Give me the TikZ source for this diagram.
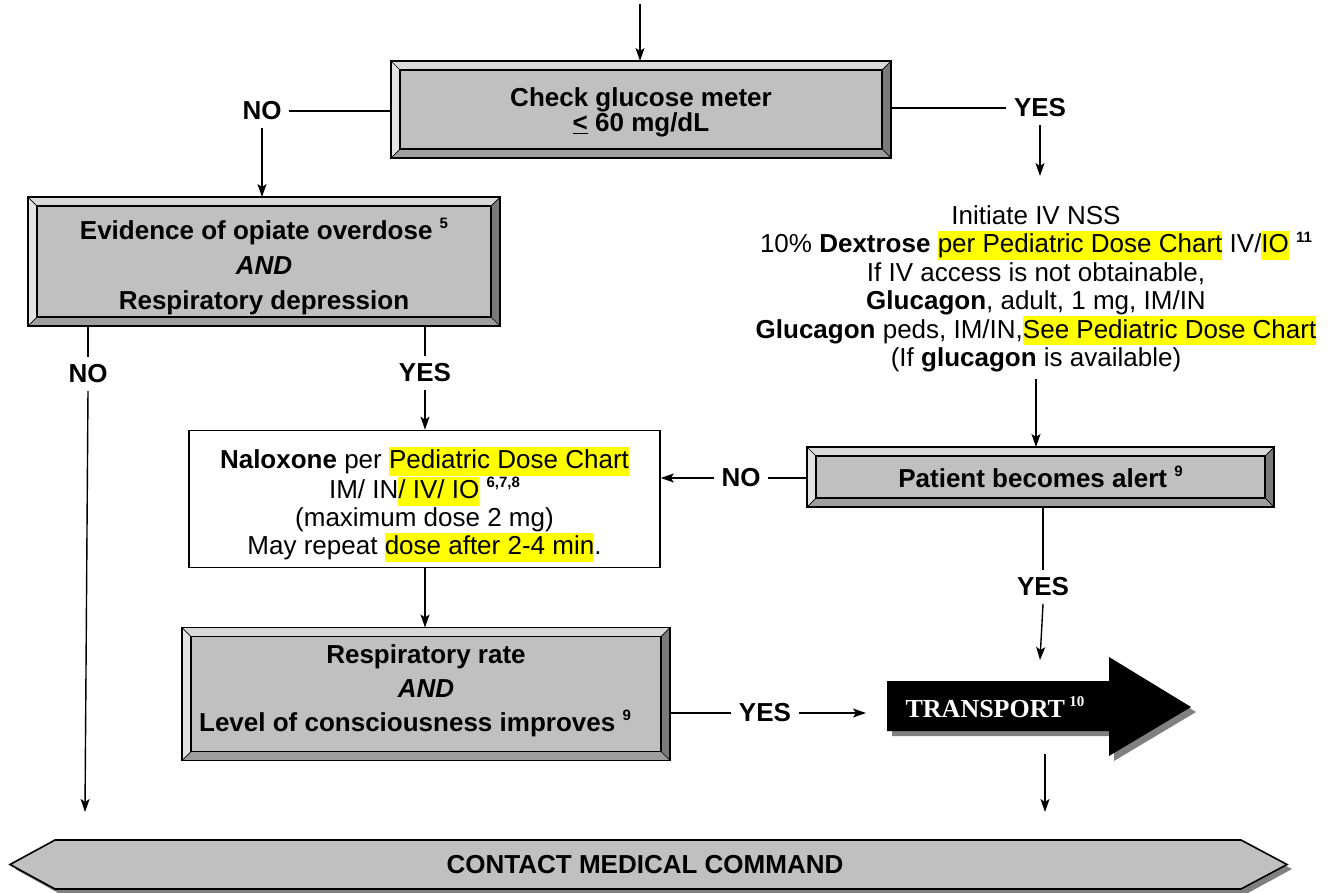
\documentclass[tikz,border=0pt]{standalone}
\usepackage{fontspec}
\setmainfont{Liberation Sans}
\newfontfamily\serifb{Liberation Serif}
\usetikzlibrary{arrows.meta,calc}
\definecolor{boxgray}{HTML}{C0C0C0}
\definecolor{bvT}{HTML}{D9D9D9}
\definecolor{bvL}{HTML}{E3E3E3}
\definecolor{bvR}{HTML}{7A7A7A}
\definecolor{bvB}{HTML}{9E9E9E}
\definecolor{shad}{HTML}{808080}
\definecolor{hl}{HTML}{FFFF00}
\newcommand\hlt[1]{{\setlength{\fboxsep}{0pt}\colorbox{hl}{\rule[-7pt]{0pt}{29pt}#1}}}
\newcommand\sps[1]{\raisebox{0.42em}{\fontsize{15}{15}\selectfont\bfseries #1}}
\def\bw{9pt}
\begin{document}
\begin{tikzpicture}[x=1pt,y=-1pt,line width=1.4pt,
  arr/.style={-{Stealth[length=13pt,width=9pt,inset=3pt]}},
  lbl/.style={font={\fontsize{26}{28}\selectfont\bfseries}, inner sep=7pt},
  txt/.style={align=center, inner sep=0pt},
  bevbox/.style={fill=boxgray, draw=black, line width=1.8pt, inner sep=0pt, outer sep=0pt, align=center,
    path picture={
      \path (path picture bounding box.north west) coordinate (pNW)
            (path picture bounding box.north east) coordinate (pNE)
            (path picture bounding box.south west) coordinate (pSW)
            (path picture bounding box.south east) coordinate (pSE);
      \path ([shift={(\bw,-\bw)}]pNW) coordinate (qNW)
            ([shift={(-\bw,-\bw)}]pNE) coordinate (qNE)
            ([shift={(\bw,\bw)}]pSW) coordinate (qSW)
            ([shift={(-\bw,\bw)}]pSE) coordinate (qSE);
      \fill[bvT] (pNW) -- (pNE) -- (qNE) -- (qNW) -- cycle;
      \fill[bvL] (pNW) -- (qNW) -- (qSW) -- (pSW) -- cycle;
      \fill[bvR] (pNE) -- (pSE) -- (qSE) -- (qNE) -- cycle;
      \fill[bvB] (pSW) -- (pSE) -- (qSE) -- (qSW) -- cycle;
      \draw[line width=1.3pt] (qNW) rectangle (qSE);
      \draw[line width=0.7pt] (pNW) -- (qNW) (pNE) -- (qNE) (pSW) -- (qSW) (pSE) -- (qSE);
    }},
  ]
\useasboundingbox (0,0) rectangle (1333,892);

% boxes
\node[bevbox, minimum width=500pt, minimum height=97pt] (check) at (641,109.5) {};
\node[txt, font={\fontsize{26}{23}\selectfont\bfseries}] (checkT) at ([yshift=-3pt]check.center)
  {Check glucose meter\\\underline{<} 60 mg/dL};
\node[bevbox, minimum width=472pt, minimum height=129pt] (evid) at (264,261.5) {};
\node[txt, font={\fontsize{26}{35}\selectfont\bfseries}] (evidT) at ([yshift=-5pt]evid.center)
  {Evidence of opiate overdose \sps{5}\\\textit{AND}\\Respiratory depression};
\node[draw=black, line width=1.6pt, fill=white, minimum width=471pt, minimum height=137pt, inner sep=0pt] (nalox) at (424.5,499) {};
\node[txt, font={\fontsize{26}{28}\selectfont}] (naloxT) at ([yshift=-5pt]nalox.center)
  {\textbf{Naloxone} per \hlt{Pediatric Dose Chart}\\
   IM/ IN\hlt{/ IV/ IO} \sps{6,7,8}\\
   (maximum dose 2 mg)\\
   May repeat \hlt{dose after 2-4 min}.};
\node[bevbox, minimum width=488pt, minimum height=133pt] (resp) at (426,694) {};
\node[txt, font={\fontsize{26}{34}\selectfont\bfseries}] (respT) at ([yshift=3pt]resp.center)
  {Respiratory rate\\\textit{AND}\\Level of consciousness improves \sps{9}\hspace*{22pt}};
\node[bevbox, minimum width=467pt, minimum height=60pt, font={\fontsize{26}{28}\selectfont\bfseries}] (alert) at (1040.5,477)
  {Patient becomes alert \sps{9}};
\node[align=center, inner sep=6pt, font={\fontsize{26}{28.5}\selectfont}] (iv) at (1036,289)
  {Initiate IV NSS\\
   10\% \textbf{Dextrose} \hlt{per Pediatric Dose Chart} IV/\hlt{IO} \sps{11}\\
   If IV access is not obtainable,\\
   \textbf{Glucagon}, adult, 1 mg, IM/IN\\
   \textbf{Glucagon} peds, IM/IN,\hlt{See Pediatric Dose Chart}\\
   (If \textbf{glucagon} is available)};

% transport arrow
\fill[shad] (892,686) -- (1114,686) -- (1114,662) -- (1196,712) -- (1114,761) -- (1114,736) -- (892,736) -- cycle;
\fill[black] (887,681) -- (1109,681) -- (1109,657) -- (1191,707) -- (1109,756) -- (1109,731) -- (887,731) -- cycle;
\node[text=white, font={\serifb\fontsize{26}{28}\selectfont\bfseries}, inner sep=0pt] (transport) at (995,707)
  {TRANSPORT\,\raisebox{0.42em}{\fontsize{15}{15}\selectfont 10}};

% contact medical command
\fill[shad] (15,869) -- (60,845) -- (1246,845) -- (1292,869) -- (1246,894) -- (60,894) -- cycle;
\draw[fill=boxgray, line width=1.6pt] (10,864.5) -- (55,840) -- (1241,840) -- (1287,864.5) -- (1241,889) -- (55,889) -- cycle;
\node[font={\fontsize{26}{28}\selectfont\bfseries}, inner sep=0pt] (cmc) at (645,864.5) {CONTACT MEDICAL COMMAND};

% labels
\node[lbl] (no1) at (262,111) {NO};
\node[lbl] (yes1) at (1040,108) {YES};
\node[lbl] (no2) at (88,374) {NO};
\node[lbl] (yes2) at (425,373) {YES};
\node[lbl] (no3) at (741,478) {NO};
\node[lbl] (yes3) at (1043,587) {YES};
\node[lbl] (yes4) at (765,713) {YES};

\coordinate (top) at (640,4);
\coordinate (ivtop) at (1040,176);
\coordinate (cmcL) at (85,812);
\coordinate (tin) at (866,713);
\coordinate (tarr) at (1040,660);
\coordinate (tbot) at (1045,754);
\coordinate (cmcR) at (1045,812);

% connectors
\draw[arr] (top) -- (top |- check.north);
\draw (check.west |- no1) -- (no1.east);
\draw (check.east |- yes1) -- (yes1.west);
\draw[arr] (no1.south) -- (no1.south |- evid.north);
\draw[arr] (yes1.south) -- (ivtop);
\draw (no2.north) -- (no2.north |- evid.south);
\draw[arr] (no2.south) -- (cmcL);
\draw (yes2.north) -- (yes2.north |- evid.south);
\draw[arr] (yes2.south) -- (yes2.south |- nalox.north);
\draw[arr] (nalox.south -| yes2) -- (resp.north -| yes2);
\draw (resp.east |- yes4) -- (yes4.west);
\draw[arr] (yes4.east) -- (tin);
\draw[arr] (iv.south) -- (iv.south |- alert.north);
\draw (alert.west |- no3) -- (no3.east);
\draw[arr] (no3.west) -- (no3.west -| nalox.east);
\draw (alert.south -| yes3) -- (yes3.north);
\draw[arr] (yes3.south) -- (tarr);
\draw[arr] (tbot) -- (cmcR);
\end{tikzpicture}
\end{document}
